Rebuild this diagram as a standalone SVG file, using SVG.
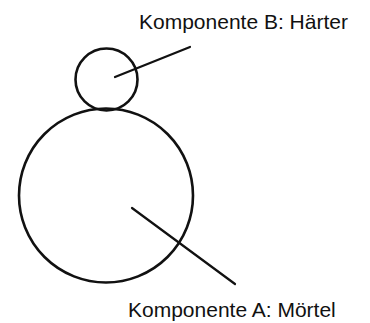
<svg xmlns="http://www.w3.org/2000/svg" width="370" height="323" viewBox="0 0 370 323">
<style>
.c{fill:none;stroke:#111;stroke-width:2.6}
.l{stroke:#111;stroke-width:2.2;stroke-linecap:round}
.t{font-family:"Liberation Sans",Arial,sans-serif;font-size:21px;fill:#111}
</style>
<rect width="370" height="323" fill="#fff"/>
<g id="komponente-b">
<circle class="c" cx="106.5" cy="79.5" r="31"/>
<text class="t" x="139" y="29">Komponente B: Härter</text>
</g>
<g id="komponente-a">
<circle class="c" cx="106" cy="195.5" r="87"/>
<text class="t" x="128" y="317">Komponente A: Mörtel</text>
</g>
<g id="connectors">
<line class="l" x1="115" y1="77" x2="190" y2="47"/>
<line class="l" x1="132" y1="208" x2="235" y2="284"/>
</g>
</svg>
